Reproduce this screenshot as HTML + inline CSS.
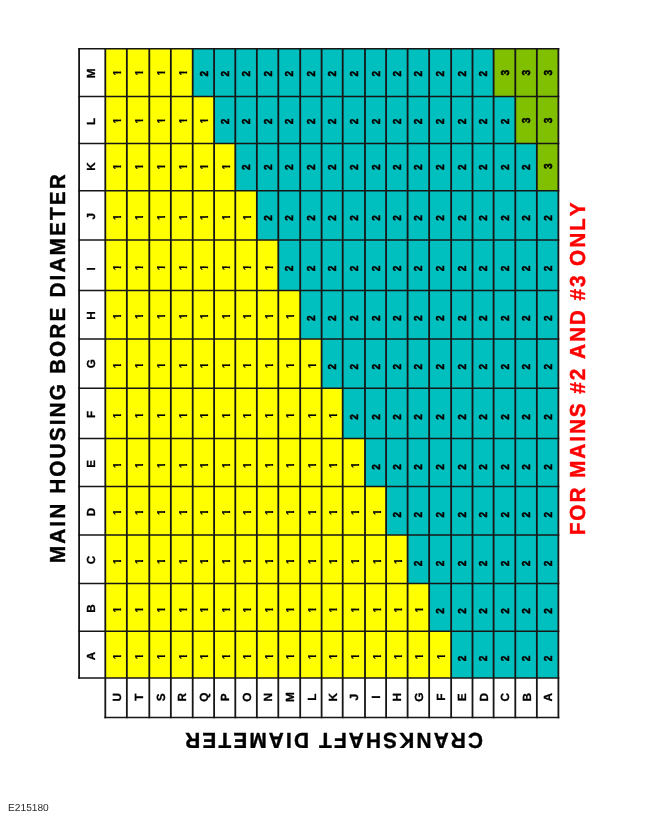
<!DOCTYPE html>
<html lang="en">
<head>
<meta charset="utf-8">
<title>E215180 - Main bearing selection chart</title>
<style>
html,body{margin:0;padding:0;background:#fff;}
body{width:650px;height:819px;overflow:hidden;}
svg{display:block;}
text{font-family:"Liberation Sans",Arial,Helvetica,sans-serif;text-rendering:geometricPrecision;font-kerning:none;}
.b{font-weight:700;}
.t{font-weight:700;font-size:21.7px;letter-spacing:2.188px;stroke-width:0.4px;stroke-linejoin:round;}
.c{font-weight:700;font-size:11.5px;text-anchor:middle;stroke:#000;stroke-width:0.5px;stroke-linejoin:round;}
.o{stroke-width:0.2px;}
.h{font-weight:700;font-size:11.7px;text-anchor:middle;stroke:#000;stroke-width:0.3px;stroke-linejoin:round;}
.l{font-weight:700;font-size:11.8px;text-anchor:middle;stroke:#000;stroke-width:0.3px;stroke-linejoin:round;}
</style>
</head>
<body>
<svg width="650" height="819" viewBox="0 0 650 819">
<rect x="0" y="0" width="650" height="819" fill="#ffffff"/>
<defs><clipPath id="k1" clipPathUnits="userSpaceOnUse"><rect x="-6" y="-12" width="12" height="9.53"/><rect x="-0.81" y="-12" width="2.18" height="14"/></clipPath></defs>
<g>
<rect x="105.30" y="48.80" width="87.40" height="47.60" fill="#ffff00"/>
<rect x="192.70" y="48.80" width="300.90" height="47.60" fill="#00bfbf"/>
<rect x="493.60" y="48.80" width="64.80" height="47.60" fill="#80c000"/>
<rect x="105.30" y="96.40" width="108.80" height="47.10" fill="#ffff00"/>
<rect x="214.10" y="96.40" width="301.20" height="47.10" fill="#00bfbf"/>
<rect x="515.30" y="96.40" width="43.10" height="47.10" fill="#80c000"/>
<rect x="105.30" y="143.50" width="130.00" height="47.30" fill="#ffff00"/>
<rect x="235.30" y="143.50" width="301.55" height="47.30" fill="#00bfbf"/>
<rect x="536.85" y="143.50" width="21.55" height="47.30" fill="#80c000"/>
<rect x="105.30" y="190.80" width="151.55" height="49.10" fill="#ffff00"/>
<rect x="256.85" y="190.80" width="301.55" height="49.10" fill="#00bfbf"/>
<rect x="105.30" y="239.90" width="173.00" height="50.50" fill="#ffff00"/>
<rect x="278.30" y="239.90" width="280.10" height="50.50" fill="#00bfbf"/>
<rect x="105.30" y="290.40" width="194.90" height="48.50" fill="#ffff00"/>
<rect x="300.20" y="290.40" width="258.20" height="48.50" fill="#00bfbf"/>
<rect x="105.30" y="338.90" width="216.30" height="49.30" fill="#ffff00"/>
<rect x="321.60" y="338.90" width="236.80" height="49.30" fill="#00bfbf"/>
<rect x="105.30" y="388.20" width="237.40" height="50.20" fill="#ffff00"/>
<rect x="342.70" y="388.20" width="215.70" height="50.20" fill="#00bfbf"/>
<rect x="105.30" y="438.40" width="259.70" height="48.20" fill="#ffff00"/>
<rect x="365.00" y="438.40" width="193.40" height="48.20" fill="#00bfbf"/>
<rect x="105.30" y="486.60" width="280.80" height="48.30" fill="#ffff00"/>
<rect x="386.10" y="486.60" width="172.30" height="48.30" fill="#00bfbf"/>
<rect x="105.30" y="534.90" width="302.30" height="48.50" fill="#ffff00"/>
<rect x="407.60" y="534.90" width="150.80" height="48.50" fill="#00bfbf"/>
<rect x="105.30" y="583.40" width="323.85" height="47.90" fill="#ffff00"/>
<rect x="429.15" y="583.40" width="129.25" height="47.90" fill="#00bfbf"/>
<rect x="105.30" y="631.30" width="345.85" height="46.70" fill="#ffff00"/>
<rect x="451.15" y="631.30" width="107.25" height="46.70" fill="#00bfbf"/>
</g>
<g stroke="#161616" stroke-width="1.8" fill="none" stroke-linecap="butt">
<line x1="105.30" y1="48.05" x2="105.30" y2="718.35"/>
<line x1="126.85" y1="48.05" x2="126.85" y2="718.35"/>
<line x1="149.30" y1="48.05" x2="149.30" y2="718.35"/>
<line x1="170.85" y1="48.05" x2="170.85" y2="718.35"/>
<line x1="192.70" y1="48.05" x2="192.70" y2="718.35"/>
<line x1="214.10" y1="48.05" x2="214.10" y2="718.35"/>
<line x1="235.30" y1="48.05" x2="235.30" y2="718.35"/>
<line x1="256.85" y1="48.05" x2="256.85" y2="718.35"/>
<line x1="278.30" y1="48.05" x2="278.30" y2="718.35"/>
<line x1="300.20" y1="48.05" x2="300.20" y2="718.35"/>
<line x1="321.60" y1="48.05" x2="321.60" y2="718.35"/>
<line x1="342.70" y1="48.05" x2="342.70" y2="718.35"/>
<line x1="365.00" y1="48.05" x2="365.00" y2="718.35"/>
<line x1="386.10" y1="48.05" x2="386.10" y2="718.35"/>
<line x1="407.60" y1="48.05" x2="407.60" y2="718.35"/>
<line x1="429.15" y1="48.05" x2="429.15" y2="718.35"/>
<line x1="451.15" y1="48.05" x2="451.15" y2="718.35"/>
<line x1="472.50" y1="48.05" x2="472.50" y2="718.35"/>
<line x1="493.60" y1="48.05" x2="493.60" y2="718.35"/>
<line x1="515.30" y1="48.05" x2="515.30" y2="718.35"/>
<line x1="536.85" y1="48.05" x2="536.85" y2="718.35"/>
<line x1="558.40" y1="48.05" x2="558.40" y2="718.35"/>
<line x1="79.10" y1="48.05" x2="79.10" y2="678.75"/>
</g>
<g stroke="#161616" stroke-width="1.5" fill="none" stroke-linecap="butt">
<line x1="78.20" y1="48.80" x2="559.30" y2="48.80"/>
<line x1="78.20" y1="96.40" x2="559.30" y2="96.40"/>
<line x1="78.20" y1="143.50" x2="559.30" y2="143.50"/>
<line x1="78.20" y1="190.80" x2="559.30" y2="190.80"/>
<line x1="78.20" y1="239.90" x2="559.30" y2="239.90"/>
<line x1="78.20" y1="290.40" x2="559.30" y2="290.40"/>
<line x1="78.20" y1="338.90" x2="559.30" y2="338.90"/>
<line x1="78.20" y1="388.20" x2="559.30" y2="388.20"/>
<line x1="78.20" y1="438.40" x2="559.30" y2="438.40"/>
<line x1="78.20" y1="486.60" x2="559.30" y2="486.60"/>
<line x1="78.20" y1="534.90" x2="559.30" y2="534.90"/>
<line x1="78.20" y1="583.40" x2="559.30" y2="583.40"/>
<line x1="78.20" y1="631.30" x2="559.30" y2="631.30"/>
<line x1="78.20" y1="678.00" x2="559.30" y2="678.00"/>
<line x1="104.40" y1="717.60" x2="559.30" y2="717.60"/>
</g>
<g fill="#000">
<text class="h" transform="translate(95.20 73.40) rotate(-90) scale(1 1)">M</text>
<text class="h" transform="translate(95.20 121.35) rotate(-90) scale(1 1)">L</text>
<text class="h" transform="translate(95.20 166.45) rotate(-90) scale(1 1)">K</text>
<text class="h" transform="translate(95.20 216.15) rotate(-90) scale(1 1)">J</text>
<text class="h" transform="translate(95.20 268.75) rotate(-90) scale(1 1)">I</text>
<text class="h" transform="translate(95.20 315.45) rotate(-90) scale(1 1)">H</text>
<text class="h" transform="translate(95.20 363.75) rotate(-90) scale(1 1)">G</text>
<text class="h" transform="translate(95.20 414.50) rotate(-90) scale(1 1)">F</text>
<text class="h" transform="translate(95.20 463.90) rotate(-90) scale(1 1)">E</text>
<text class="h" transform="translate(95.20 512.05) rotate(-90) scale(1 1)">D</text>
<text class="h" transform="translate(95.20 559.95) rotate(-90) scale(1 1)">C</text>
<text class="h" transform="translate(95.20 608.55) rotate(-90) scale(1 1)">B</text>
<text class="h" transform="translate(95.20 655.95) rotate(-90) scale(1 1)">A</text>
<text class="l" transform="translate(120.67 697.20) rotate(-90) scale(1 1)">U</text>
<text class="l" transform="translate(142.67 697.20) rotate(-90) scale(1 1)">T</text>
<text class="l" transform="translate(164.67 697.20) rotate(-90) scale(1 1)">S</text>
<text class="l" transform="translate(186.37 697.20) rotate(-90) scale(1 1)">R</text>
<text class="l" transform="translate(208.00 697.20) rotate(-90) scale(1 1)">Q</text>
<text class="l" transform="translate(229.30 697.20) rotate(-90) scale(1 1)">P</text>
<text class="l" transform="translate(250.68 697.20) rotate(-90) scale(1 1)">O</text>
<text class="l" transform="translate(272.18 697.20) rotate(-90) scale(1 1)">N</text>
<text class="l" transform="translate(293.85 697.20) rotate(-90) scale(1 1)">M</text>
<text class="l" transform="translate(315.50 697.20) rotate(-90) scale(1 1)">L</text>
<text class="l" transform="translate(336.75 697.20) rotate(-90) scale(1 1)">K</text>
<text class="l" transform="translate(358.45 697.20) rotate(-90) scale(1 1)">J</text>
<text class="l" transform="translate(380.15 697.20) rotate(-90) scale(1 1)">I</text>
<text class="l" transform="translate(401.45 697.20) rotate(-90) scale(1 1)">H</text>
<text class="l" transform="translate(422.98 697.20) rotate(-90) scale(1 1)">G</text>
<text class="l" transform="translate(444.75 697.20) rotate(-90) scale(1 1)">F</text>
<text class="l" transform="translate(466.43 697.20) rotate(-90) scale(1 1)">E</text>
<text class="l" transform="translate(487.65 697.20) rotate(-90) scale(1 1)">D</text>
<text class="l" transform="translate(509.05 697.20) rotate(-90) scale(1 1)">C</text>
<text class="l" transform="translate(530.68 697.20) rotate(-90) scale(1 1)">B</text>
<text class="l" transform="translate(552.23 697.20) rotate(-90) scale(1 1)">A</text>
<text class="c o" clip-path="url(#k1)" transform="translate(121.07 72.70) rotate(-90) scale(0.87 1)">1</text>
<text class="c o" clip-path="url(#k1)" transform="translate(143.07 72.70) rotate(-90) scale(0.87 1)">1</text>
<text class="c o" clip-path="url(#k1)" transform="translate(165.07 72.70) rotate(-90) scale(0.87 1)">1</text>
<text class="c o" clip-path="url(#k1)" transform="translate(186.77 72.70) rotate(-90) scale(0.87 1)">1</text>
<text class="c" transform="translate(207.50 73.60) rotate(-90) scale(0.87 1)">2</text>
<text class="c" transform="translate(228.80 73.60) rotate(-90) scale(0.87 1)">2</text>
<text class="c" transform="translate(250.18 73.60) rotate(-90) scale(0.87 1)">2</text>
<text class="c" transform="translate(271.68 73.60) rotate(-90) scale(0.87 1)">2</text>
<text class="c" transform="translate(293.35 73.60) rotate(-90) scale(0.87 1)">2</text>
<text class="c" transform="translate(315.00 73.60) rotate(-90) scale(0.87 1)">2</text>
<text class="c" transform="translate(336.25 73.60) rotate(-90) scale(0.87 1)">2</text>
<text class="c" transform="translate(357.95 73.60) rotate(-90) scale(0.87 1)">2</text>
<text class="c" transform="translate(379.65 73.60) rotate(-90) scale(0.87 1)">2</text>
<text class="c" transform="translate(400.95 73.60) rotate(-90) scale(0.87 1)">2</text>
<text class="c" transform="translate(422.48 73.60) rotate(-90) scale(0.87 1)">2</text>
<text class="c" transform="translate(444.25 73.60) rotate(-90) scale(0.87 1)">2</text>
<text class="c" transform="translate(465.93 73.60) rotate(-90) scale(0.87 1)">2</text>
<text class="c" transform="translate(487.15 73.60) rotate(-90) scale(0.87 1)">2</text>
<text class="c" transform="translate(508.55 72.60) rotate(-90) scale(0.87 1)">3</text>
<text class="c" transform="translate(530.18 72.60) rotate(-90) scale(0.87 1)">3</text>
<text class="c" transform="translate(551.73 72.60) rotate(-90) scale(0.87 1)">3</text>
<text class="c o" clip-path="url(#k1)" transform="translate(121.07 120.60) rotate(-90) scale(0.87 1)">1</text>
<text class="c o" clip-path="url(#k1)" transform="translate(143.07 120.60) rotate(-90) scale(0.87 1)">1</text>
<text class="c o" clip-path="url(#k1)" transform="translate(165.07 120.60) rotate(-90) scale(0.87 1)">1</text>
<text class="c o" clip-path="url(#k1)" transform="translate(186.77 120.60) rotate(-90) scale(0.87 1)">1</text>
<text class="c o" clip-path="url(#k1)" transform="translate(208.40 120.60) rotate(-90) scale(0.87 1)">1</text>
<text class="c" transform="translate(228.80 121.50) rotate(-90) scale(0.87 1)">2</text>
<text class="c" transform="translate(250.18 121.50) rotate(-90) scale(0.87 1)">2</text>
<text class="c" transform="translate(271.68 121.50) rotate(-90) scale(0.87 1)">2</text>
<text class="c" transform="translate(293.35 121.50) rotate(-90) scale(0.87 1)">2</text>
<text class="c" transform="translate(315.00 121.50) rotate(-90) scale(0.87 1)">2</text>
<text class="c" transform="translate(336.25 121.50) rotate(-90) scale(0.87 1)">2</text>
<text class="c" transform="translate(357.95 121.50) rotate(-90) scale(0.87 1)">2</text>
<text class="c" transform="translate(379.65 121.50) rotate(-90) scale(0.87 1)">2</text>
<text class="c" transform="translate(400.95 121.50) rotate(-90) scale(0.87 1)">2</text>
<text class="c" transform="translate(422.48 121.50) rotate(-90) scale(0.87 1)">2</text>
<text class="c" transform="translate(444.25 121.50) rotate(-90) scale(0.87 1)">2</text>
<text class="c" transform="translate(465.93 121.50) rotate(-90) scale(0.87 1)">2</text>
<text class="c" transform="translate(487.15 121.50) rotate(-90) scale(0.87 1)">2</text>
<text class="c" transform="translate(508.55 121.50) rotate(-90) scale(0.87 1)">2</text>
<text class="c" transform="translate(530.18 120.50) rotate(-90) scale(0.87 1)">3</text>
<text class="c" transform="translate(551.73 120.50) rotate(-90) scale(0.87 1)">3</text>
<text class="c o" clip-path="url(#k1)" transform="translate(121.07 166.70) rotate(-90) scale(0.87 1)">1</text>
<text class="c o" clip-path="url(#k1)" transform="translate(143.07 166.70) rotate(-90) scale(0.87 1)">1</text>
<text class="c o" clip-path="url(#k1)" transform="translate(165.07 166.70) rotate(-90) scale(0.87 1)">1</text>
<text class="c o" clip-path="url(#k1)" transform="translate(186.77 166.70) rotate(-90) scale(0.87 1)">1</text>
<text class="c o" clip-path="url(#k1)" transform="translate(208.40 166.70) rotate(-90) scale(0.87 1)">1</text>
<text class="c o" clip-path="url(#k1)" transform="translate(229.70 166.70) rotate(-90) scale(0.87 1)">1</text>
<text class="c" transform="translate(250.18 167.20) rotate(-90) scale(0.87 1)">2</text>
<text class="c" transform="translate(271.68 167.20) rotate(-90) scale(0.87 1)">2</text>
<text class="c" transform="translate(293.35 167.20) rotate(-90) scale(0.87 1)">2</text>
<text class="c" transform="translate(315.00 167.20) rotate(-90) scale(0.87 1)">2</text>
<text class="c" transform="translate(336.25 167.20) rotate(-90) scale(0.87 1)">2</text>
<text class="c" transform="translate(357.95 167.20) rotate(-90) scale(0.87 1)">2</text>
<text class="c" transform="translate(379.65 167.20) rotate(-90) scale(0.87 1)">2</text>
<text class="c" transform="translate(400.95 167.20) rotate(-90) scale(0.87 1)">2</text>
<text class="c" transform="translate(422.48 167.20) rotate(-90) scale(0.87 1)">2</text>
<text class="c" transform="translate(444.25 167.20) rotate(-90) scale(0.87 1)">2</text>
<text class="c" transform="translate(465.93 167.20) rotate(-90) scale(0.87 1)">2</text>
<text class="c" transform="translate(487.15 167.20) rotate(-90) scale(0.87 1)">2</text>
<text class="c" transform="translate(508.55 167.20) rotate(-90) scale(0.87 1)">2</text>
<text class="c" transform="translate(530.18 167.20) rotate(-90) scale(0.87 1)">2</text>
<text class="c" transform="translate(551.73 166.20) rotate(-90) scale(0.87 1)">3</text>
<text class="c o" clip-path="url(#k1)" transform="translate(121.07 217.15) rotate(-90) scale(0.87 1)">1</text>
<text class="c o" clip-path="url(#k1)" transform="translate(143.07 217.15) rotate(-90) scale(0.87 1)">1</text>
<text class="c o" clip-path="url(#k1)" transform="translate(165.07 217.15) rotate(-90) scale(0.87 1)">1</text>
<text class="c o" clip-path="url(#k1)" transform="translate(186.77 217.15) rotate(-90) scale(0.87 1)">1</text>
<text class="c o" clip-path="url(#k1)" transform="translate(208.40 217.15) rotate(-90) scale(0.87 1)">1</text>
<text class="c o" clip-path="url(#k1)" transform="translate(229.70 217.15) rotate(-90) scale(0.87 1)">1</text>
<text class="c o" clip-path="url(#k1)" transform="translate(251.08 217.15) rotate(-90) scale(0.87 1)">1</text>
<text class="c" transform="translate(271.68 218.05) rotate(-90) scale(0.87 1)">2</text>
<text class="c" transform="translate(293.35 218.05) rotate(-90) scale(0.87 1)">2</text>
<text class="c" transform="translate(315.00 218.05) rotate(-90) scale(0.87 1)">2</text>
<text class="c" transform="translate(336.25 218.05) rotate(-90) scale(0.87 1)">2</text>
<text class="c" transform="translate(357.95 218.05) rotate(-90) scale(0.87 1)">2</text>
<text class="c" transform="translate(379.65 218.05) rotate(-90) scale(0.87 1)">2</text>
<text class="c" transform="translate(400.95 218.05) rotate(-90) scale(0.87 1)">2</text>
<text class="c" transform="translate(422.48 218.05) rotate(-90) scale(0.87 1)">2</text>
<text class="c" transform="translate(444.25 218.05) rotate(-90) scale(0.87 1)">2</text>
<text class="c" transform="translate(465.93 218.05) rotate(-90) scale(0.87 1)">2</text>
<text class="c" transform="translate(487.15 218.05) rotate(-90) scale(0.87 1)">2</text>
<text class="c" transform="translate(508.55 218.05) rotate(-90) scale(0.87 1)">2</text>
<text class="c" transform="translate(530.18 218.05) rotate(-90) scale(0.87 1)">2</text>
<text class="c" transform="translate(551.73 218.05) rotate(-90) scale(0.87 1)">2</text>
<text class="c o" clip-path="url(#k1)" transform="translate(121.07 267.58) rotate(-90) scale(0.87 1)">1</text>
<text class="c o" clip-path="url(#k1)" transform="translate(143.07 267.58) rotate(-90) scale(0.87 1)">1</text>
<text class="c o" clip-path="url(#k1)" transform="translate(165.07 267.58) rotate(-90) scale(0.87 1)">1</text>
<text class="c o" clip-path="url(#k1)" transform="translate(186.77 267.58) rotate(-90) scale(0.87 1)">1</text>
<text class="c o" clip-path="url(#k1)" transform="translate(208.40 267.58) rotate(-90) scale(0.87 1)">1</text>
<text class="c o" clip-path="url(#k1)" transform="translate(229.70 267.58) rotate(-90) scale(0.87 1)">1</text>
<text class="c o" clip-path="url(#k1)" transform="translate(251.08 267.58) rotate(-90) scale(0.87 1)">1</text>
<text class="c o" clip-path="url(#k1)" transform="translate(272.58 267.58) rotate(-90) scale(0.87 1)">1</text>
<text class="c" transform="translate(293.35 268.58) rotate(-90) scale(0.87 1)">2</text>
<text class="c" transform="translate(315.00 268.58) rotate(-90) scale(0.87 1)">2</text>
<text class="c" transform="translate(336.25 268.58) rotate(-90) scale(0.87 1)">2</text>
<text class="c" transform="translate(357.95 268.58) rotate(-90) scale(0.87 1)">2</text>
<text class="c" transform="translate(379.65 268.58) rotate(-90) scale(0.87 1)">2</text>
<text class="c" transform="translate(400.95 268.58) rotate(-90) scale(0.87 1)">2</text>
<text class="c" transform="translate(422.48 268.58) rotate(-90) scale(0.87 1)">2</text>
<text class="c" transform="translate(444.25 268.58) rotate(-90) scale(0.87 1)">2</text>
<text class="c" transform="translate(465.93 268.58) rotate(-90) scale(0.87 1)">2</text>
<text class="c" transform="translate(487.15 268.58) rotate(-90) scale(0.87 1)">2</text>
<text class="c" transform="translate(508.55 268.58) rotate(-90) scale(0.87 1)">2</text>
<text class="c" transform="translate(530.18 268.58) rotate(-90) scale(0.87 1)">2</text>
<text class="c" transform="translate(551.73 268.58) rotate(-90) scale(0.87 1)">2</text>
<text class="c o" clip-path="url(#k1)" transform="translate(121.07 316.17) rotate(-90) scale(0.87 1)">1</text>
<text class="c o" clip-path="url(#k1)" transform="translate(143.07 316.17) rotate(-90) scale(0.87 1)">1</text>
<text class="c o" clip-path="url(#k1)" transform="translate(165.07 316.17) rotate(-90) scale(0.87 1)">1</text>
<text class="c o" clip-path="url(#k1)" transform="translate(186.77 316.17) rotate(-90) scale(0.87 1)">1</text>
<text class="c o" clip-path="url(#k1)" transform="translate(208.40 316.17) rotate(-90) scale(0.87 1)">1</text>
<text class="c o" clip-path="url(#k1)" transform="translate(229.70 316.17) rotate(-90) scale(0.87 1)">1</text>
<text class="c o" clip-path="url(#k1)" transform="translate(251.08 316.17) rotate(-90) scale(0.87 1)">1</text>
<text class="c o" clip-path="url(#k1)" transform="translate(272.58 316.17) rotate(-90) scale(0.87 1)">1</text>
<text class="c o" clip-path="url(#k1)" transform="translate(294.25 316.17) rotate(-90) scale(0.87 1)">1</text>
<text class="c" transform="translate(315.00 318.27) rotate(-90) scale(0.87 1)">2</text>
<text class="c" transform="translate(336.25 318.27) rotate(-90) scale(0.87 1)">2</text>
<text class="c" transform="translate(357.95 318.27) rotate(-90) scale(0.87 1)">2</text>
<text class="c" transform="translate(379.65 318.27) rotate(-90) scale(0.87 1)">2</text>
<text class="c" transform="translate(400.95 318.27) rotate(-90) scale(0.87 1)">2</text>
<text class="c" transform="translate(422.48 318.27) rotate(-90) scale(0.87 1)">2</text>
<text class="c" transform="translate(444.25 318.27) rotate(-90) scale(0.87 1)">2</text>
<text class="c" transform="translate(465.93 318.27) rotate(-90) scale(0.87 1)">2</text>
<text class="c" transform="translate(487.15 318.27) rotate(-90) scale(0.87 1)">2</text>
<text class="c" transform="translate(508.55 318.27) rotate(-90) scale(0.87 1)">2</text>
<text class="c" transform="translate(530.18 318.27) rotate(-90) scale(0.87 1)">2</text>
<text class="c" transform="translate(551.73 318.27) rotate(-90) scale(0.87 1)">2</text>
<text class="c o" clip-path="url(#k1)" transform="translate(121.07 365.40) rotate(-90) scale(0.87 1)">1</text>
<text class="c o" clip-path="url(#k1)" transform="translate(143.07 365.40) rotate(-90) scale(0.87 1)">1</text>
<text class="c o" clip-path="url(#k1)" transform="translate(165.07 365.40) rotate(-90) scale(0.87 1)">1</text>
<text class="c o" clip-path="url(#k1)" transform="translate(186.77 365.40) rotate(-90) scale(0.87 1)">1</text>
<text class="c o" clip-path="url(#k1)" transform="translate(208.40 365.40) rotate(-90) scale(0.87 1)">1</text>
<text class="c o" clip-path="url(#k1)" transform="translate(229.70 365.40) rotate(-90) scale(0.87 1)">1</text>
<text class="c o" clip-path="url(#k1)" transform="translate(251.08 365.40) rotate(-90) scale(0.87 1)">1</text>
<text class="c o" clip-path="url(#k1)" transform="translate(272.58 365.40) rotate(-90) scale(0.87 1)">1</text>
<text class="c o" clip-path="url(#k1)" transform="translate(294.25 365.40) rotate(-90) scale(0.87 1)">1</text>
<text class="c o" clip-path="url(#k1)" transform="translate(315.90 365.40) rotate(-90) scale(0.87 1)">1</text>
<text class="c" transform="translate(336.25 366.60) rotate(-90) scale(0.87 1)">2</text>
<text class="c" transform="translate(357.95 366.60) rotate(-90) scale(0.87 1)">2</text>
<text class="c" transform="translate(379.65 366.60) rotate(-90) scale(0.87 1)">2</text>
<text class="c" transform="translate(400.95 366.60) rotate(-90) scale(0.87 1)">2</text>
<text class="c" transform="translate(422.48 366.60) rotate(-90) scale(0.87 1)">2</text>
<text class="c" transform="translate(444.25 366.60) rotate(-90) scale(0.87 1)">2</text>
<text class="c" transform="translate(465.93 366.60) rotate(-90) scale(0.87 1)">2</text>
<text class="c" transform="translate(487.15 366.60) rotate(-90) scale(0.87 1)">2</text>
<text class="c" transform="translate(508.55 366.60) rotate(-90) scale(0.87 1)">2</text>
<text class="c" transform="translate(530.18 366.60) rotate(-90) scale(0.87 1)">2</text>
<text class="c" transform="translate(551.73 366.60) rotate(-90) scale(0.87 1)">2</text>
<text class="c o" clip-path="url(#k1)" transform="translate(121.07 415.35) rotate(-90) scale(0.87 1)">1</text>
<text class="c o" clip-path="url(#k1)" transform="translate(143.07 415.35) rotate(-90) scale(0.87 1)">1</text>
<text class="c o" clip-path="url(#k1)" transform="translate(165.07 415.35) rotate(-90) scale(0.87 1)">1</text>
<text class="c o" clip-path="url(#k1)" transform="translate(186.77 415.35) rotate(-90) scale(0.87 1)">1</text>
<text class="c o" clip-path="url(#k1)" transform="translate(208.40 415.35) rotate(-90) scale(0.87 1)">1</text>
<text class="c o" clip-path="url(#k1)" transform="translate(229.70 415.35) rotate(-90) scale(0.87 1)">1</text>
<text class="c o" clip-path="url(#k1)" transform="translate(251.08 415.35) rotate(-90) scale(0.87 1)">1</text>
<text class="c o" clip-path="url(#k1)" transform="translate(272.58 415.35) rotate(-90) scale(0.87 1)">1</text>
<text class="c o" clip-path="url(#k1)" transform="translate(294.25 415.35) rotate(-90) scale(0.87 1)">1</text>
<text class="c o" clip-path="url(#k1)" transform="translate(315.90 415.35) rotate(-90) scale(0.87 1)">1</text>
<text class="c o" clip-path="url(#k1)" transform="translate(337.15 415.35) rotate(-90) scale(0.87 1)">1</text>
<text class="c" transform="translate(357.95 417.05) rotate(-90) scale(0.87 1)">2</text>
<text class="c" transform="translate(379.65 417.05) rotate(-90) scale(0.87 1)">2</text>
<text class="c" transform="translate(400.95 417.05) rotate(-90) scale(0.87 1)">2</text>
<text class="c" transform="translate(422.48 417.05) rotate(-90) scale(0.87 1)">2</text>
<text class="c" transform="translate(444.25 417.05) rotate(-90) scale(0.87 1)">2</text>
<text class="c" transform="translate(465.93 417.05) rotate(-90) scale(0.87 1)">2</text>
<text class="c" transform="translate(487.15 417.05) rotate(-90) scale(0.87 1)">2</text>
<text class="c" transform="translate(508.55 417.05) rotate(-90) scale(0.87 1)">2</text>
<text class="c" transform="translate(530.18 417.05) rotate(-90) scale(0.87 1)">2</text>
<text class="c" transform="translate(551.73 417.05) rotate(-90) scale(0.87 1)">2</text>
<text class="c o" clip-path="url(#k1)" transform="translate(121.07 465.15) rotate(-90) scale(0.87 1)">1</text>
<text class="c o" clip-path="url(#k1)" transform="translate(143.07 465.15) rotate(-90) scale(0.87 1)">1</text>
<text class="c o" clip-path="url(#k1)" transform="translate(165.07 465.15) rotate(-90) scale(0.87 1)">1</text>
<text class="c o" clip-path="url(#k1)" transform="translate(186.77 465.15) rotate(-90) scale(0.87 1)">1</text>
<text class="c o" clip-path="url(#k1)" transform="translate(208.40 465.15) rotate(-90) scale(0.87 1)">1</text>
<text class="c o" clip-path="url(#k1)" transform="translate(229.70 465.15) rotate(-90) scale(0.87 1)">1</text>
<text class="c o" clip-path="url(#k1)" transform="translate(251.08 465.15) rotate(-90) scale(0.87 1)">1</text>
<text class="c o" clip-path="url(#k1)" transform="translate(272.58 465.15) rotate(-90) scale(0.87 1)">1</text>
<text class="c o" clip-path="url(#k1)" transform="translate(294.25 465.15) rotate(-90) scale(0.87 1)">1</text>
<text class="c o" clip-path="url(#k1)" transform="translate(315.90 465.15) rotate(-90) scale(0.87 1)">1</text>
<text class="c o" clip-path="url(#k1)" transform="translate(337.15 465.15) rotate(-90) scale(0.87 1)">1</text>
<text class="c o" clip-path="url(#k1)" transform="translate(358.85 465.15) rotate(-90) scale(0.87 1)">1</text>
<text class="c" transform="translate(379.65 466.85) rotate(-90) scale(0.87 1)">2</text>
<text class="c" transform="translate(400.95 466.85) rotate(-90) scale(0.87 1)">2</text>
<text class="c" transform="translate(422.48 466.85) rotate(-90) scale(0.87 1)">2</text>
<text class="c" transform="translate(444.25 466.85) rotate(-90) scale(0.87 1)">2</text>
<text class="c" transform="translate(465.93 466.85) rotate(-90) scale(0.87 1)">2</text>
<text class="c" transform="translate(487.15 466.85) rotate(-90) scale(0.87 1)">2</text>
<text class="c" transform="translate(508.55 466.85) rotate(-90) scale(0.87 1)">2</text>
<text class="c" transform="translate(530.18 466.85) rotate(-90) scale(0.87 1)">2</text>
<text class="c" transform="translate(551.73 466.85) rotate(-90) scale(0.87 1)">2</text>
<text class="c o" clip-path="url(#k1)" transform="translate(121.07 512.20) rotate(-90) scale(0.87 1)">1</text>
<text class="c o" clip-path="url(#k1)" transform="translate(143.07 512.20) rotate(-90) scale(0.87 1)">1</text>
<text class="c o" clip-path="url(#k1)" transform="translate(165.07 512.20) rotate(-90) scale(0.87 1)">1</text>
<text class="c o" clip-path="url(#k1)" transform="translate(186.77 512.20) rotate(-90) scale(0.87 1)">1</text>
<text class="c o" clip-path="url(#k1)" transform="translate(208.40 512.20) rotate(-90) scale(0.87 1)">1</text>
<text class="c o" clip-path="url(#k1)" transform="translate(229.70 512.20) rotate(-90) scale(0.87 1)">1</text>
<text class="c o" clip-path="url(#k1)" transform="translate(251.08 512.20) rotate(-90) scale(0.87 1)">1</text>
<text class="c o" clip-path="url(#k1)" transform="translate(272.58 512.20) rotate(-90) scale(0.87 1)">1</text>
<text class="c o" clip-path="url(#k1)" transform="translate(294.25 512.20) rotate(-90) scale(0.87 1)">1</text>
<text class="c o" clip-path="url(#k1)" transform="translate(315.90 512.20) rotate(-90) scale(0.87 1)">1</text>
<text class="c o" clip-path="url(#k1)" transform="translate(337.15 512.20) rotate(-90) scale(0.87 1)">1</text>
<text class="c o" clip-path="url(#k1)" transform="translate(358.85 512.20) rotate(-90) scale(0.87 1)">1</text>
<text class="c o" clip-path="url(#k1)" transform="translate(380.55 512.20) rotate(-90) scale(0.87 1)">1</text>
<text class="c" transform="translate(400.95 514.70) rotate(-90) scale(0.87 1)">2</text>
<text class="c" transform="translate(422.48 514.70) rotate(-90) scale(0.87 1)">2</text>
<text class="c" transform="translate(444.25 514.70) rotate(-90) scale(0.87 1)">2</text>
<text class="c" transform="translate(465.93 514.70) rotate(-90) scale(0.87 1)">2</text>
<text class="c" transform="translate(487.15 514.70) rotate(-90) scale(0.87 1)">2</text>
<text class="c" transform="translate(508.55 514.70) rotate(-90) scale(0.87 1)">2</text>
<text class="c" transform="translate(530.18 514.70) rotate(-90) scale(0.87 1)">2</text>
<text class="c" transform="translate(551.73 514.70) rotate(-90) scale(0.87 1)">2</text>
<text class="c o" clip-path="url(#k1)" transform="translate(121.07 561.25) rotate(-90) scale(0.87 1)">1</text>
<text class="c o" clip-path="url(#k1)" transform="translate(143.07 561.25) rotate(-90) scale(0.87 1)">1</text>
<text class="c o" clip-path="url(#k1)" transform="translate(165.07 561.25) rotate(-90) scale(0.87 1)">1</text>
<text class="c o" clip-path="url(#k1)" transform="translate(186.77 561.25) rotate(-90) scale(0.87 1)">1</text>
<text class="c o" clip-path="url(#k1)" transform="translate(208.40 561.25) rotate(-90) scale(0.87 1)">1</text>
<text class="c o" clip-path="url(#k1)" transform="translate(229.70 561.25) rotate(-90) scale(0.87 1)">1</text>
<text class="c o" clip-path="url(#k1)" transform="translate(251.08 561.25) rotate(-90) scale(0.87 1)">1</text>
<text class="c o" clip-path="url(#k1)" transform="translate(272.58 561.25) rotate(-90) scale(0.87 1)">1</text>
<text class="c o" clip-path="url(#k1)" transform="translate(294.25 561.25) rotate(-90) scale(0.87 1)">1</text>
<text class="c o" clip-path="url(#k1)" transform="translate(315.90 561.25) rotate(-90) scale(0.87 1)">1</text>
<text class="c o" clip-path="url(#k1)" transform="translate(337.15 561.25) rotate(-90) scale(0.87 1)">1</text>
<text class="c o" clip-path="url(#k1)" transform="translate(358.85 561.25) rotate(-90) scale(0.87 1)">1</text>
<text class="c o" clip-path="url(#k1)" transform="translate(380.55 561.25) rotate(-90) scale(0.87 1)">1</text>
<text class="c o" clip-path="url(#k1)" transform="translate(401.85 561.25) rotate(-90) scale(0.87 1)">1</text>
<text class="c" transform="translate(422.48 563.35) rotate(-90) scale(0.87 1)">2</text>
<text class="c" transform="translate(444.25 563.35) rotate(-90) scale(0.87 1)">2</text>
<text class="c" transform="translate(465.93 563.35) rotate(-90) scale(0.87 1)">2</text>
<text class="c" transform="translate(487.15 563.35) rotate(-90) scale(0.87 1)">2</text>
<text class="c" transform="translate(508.55 563.35) rotate(-90) scale(0.87 1)">2</text>
<text class="c" transform="translate(530.18 563.35) rotate(-90) scale(0.87 1)">2</text>
<text class="c" transform="translate(551.73 563.35) rotate(-90) scale(0.87 1)">2</text>
<text class="c o" clip-path="url(#k1)" transform="translate(121.07 609.75) rotate(-90) scale(0.87 1)">1</text>
<text class="c o" clip-path="url(#k1)" transform="translate(143.07 609.75) rotate(-90) scale(0.87 1)">1</text>
<text class="c o" clip-path="url(#k1)" transform="translate(165.07 609.75) rotate(-90) scale(0.87 1)">1</text>
<text class="c o" clip-path="url(#k1)" transform="translate(186.77 609.75) rotate(-90) scale(0.87 1)">1</text>
<text class="c o" clip-path="url(#k1)" transform="translate(208.40 609.75) rotate(-90) scale(0.87 1)">1</text>
<text class="c o" clip-path="url(#k1)" transform="translate(229.70 609.75) rotate(-90) scale(0.87 1)">1</text>
<text class="c o" clip-path="url(#k1)" transform="translate(251.08 609.75) rotate(-90) scale(0.87 1)">1</text>
<text class="c o" clip-path="url(#k1)" transform="translate(272.58 609.75) rotate(-90) scale(0.87 1)">1</text>
<text class="c o" clip-path="url(#k1)" transform="translate(294.25 609.75) rotate(-90) scale(0.87 1)">1</text>
<text class="c o" clip-path="url(#k1)" transform="translate(315.90 609.75) rotate(-90) scale(0.87 1)">1</text>
<text class="c o" clip-path="url(#k1)" transform="translate(337.15 609.75) rotate(-90) scale(0.87 1)">1</text>
<text class="c o" clip-path="url(#k1)" transform="translate(358.85 609.75) rotate(-90) scale(0.87 1)">1</text>
<text class="c o" clip-path="url(#k1)" transform="translate(380.55 609.75) rotate(-90) scale(0.87 1)">1</text>
<text class="c o" clip-path="url(#k1)" transform="translate(401.85 609.75) rotate(-90) scale(0.87 1)">1</text>
<text class="c o" clip-path="url(#k1)" transform="translate(423.38 609.75) rotate(-90) scale(0.87 1)">1</text>
<text class="c" transform="translate(444.25 610.95) rotate(-90) scale(0.87 1)">2</text>
<text class="c" transform="translate(465.93 610.95) rotate(-90) scale(0.87 1)">2</text>
<text class="c" transform="translate(487.15 610.95) rotate(-90) scale(0.87 1)">2</text>
<text class="c" transform="translate(508.55 610.95) rotate(-90) scale(0.87 1)">2</text>
<text class="c" transform="translate(530.18 610.95) rotate(-90) scale(0.87 1)">2</text>
<text class="c" transform="translate(551.73 610.95) rotate(-90) scale(0.87 1)">2</text>
<text class="c o" clip-path="url(#k1)" transform="translate(121.07 656.35) rotate(-90) scale(0.87 1)">1</text>
<text class="c o" clip-path="url(#k1)" transform="translate(143.07 656.35) rotate(-90) scale(0.87 1)">1</text>
<text class="c o" clip-path="url(#k1)" transform="translate(165.07 656.35) rotate(-90) scale(0.87 1)">1</text>
<text class="c o" clip-path="url(#k1)" transform="translate(186.77 656.35) rotate(-90) scale(0.87 1)">1</text>
<text class="c o" clip-path="url(#k1)" transform="translate(208.40 656.35) rotate(-90) scale(0.87 1)">1</text>
<text class="c o" clip-path="url(#k1)" transform="translate(229.70 656.35) rotate(-90) scale(0.87 1)">1</text>
<text class="c o" clip-path="url(#k1)" transform="translate(251.08 656.35) rotate(-90) scale(0.87 1)">1</text>
<text class="c o" clip-path="url(#k1)" transform="translate(272.58 656.35) rotate(-90) scale(0.87 1)">1</text>
<text class="c o" clip-path="url(#k1)" transform="translate(294.25 656.35) rotate(-90) scale(0.87 1)">1</text>
<text class="c o" clip-path="url(#k1)" transform="translate(315.90 656.35) rotate(-90) scale(0.87 1)">1</text>
<text class="c o" clip-path="url(#k1)" transform="translate(337.15 656.35) rotate(-90) scale(0.87 1)">1</text>
<text class="c o" clip-path="url(#k1)" transform="translate(358.85 656.35) rotate(-90) scale(0.87 1)">1</text>
<text class="c o" clip-path="url(#k1)" transform="translate(380.55 656.35) rotate(-90) scale(0.87 1)">1</text>
<text class="c o" clip-path="url(#k1)" transform="translate(401.85 656.35) rotate(-90) scale(0.87 1)">1</text>
<text class="c o" clip-path="url(#k1)" transform="translate(423.38 656.35) rotate(-90) scale(0.87 1)">1</text>
<text class="c o" clip-path="url(#k1)" transform="translate(445.15 656.35) rotate(-90) scale(0.87 1)">1</text>
<text class="c" transform="translate(465.93 658.45) rotate(-90) scale(0.87 1)">2</text>
<text class="c" transform="translate(487.15 658.45) rotate(-90) scale(0.87 1)">2</text>
<text class="c" transform="translate(508.55 658.45) rotate(-90) scale(0.87 1)">2</text>
<text class="c" transform="translate(530.18 658.45) rotate(-90) scale(0.87 1)">2</text>
<text class="c" transform="translate(551.73 658.45) rotate(-90) scale(0.87 1)">2</text>
</g>
<text class="t" fill="#000" stroke="#000" transform="translate(65.00 563.30) rotate(-90) scale(0.96 1)">MAIN HOUSING BORE DIAMETER</text>
<text class="t" fill="#000" stroke="#000" style="letter-spacing:2.240px" transform="translate(483.00 732.80) rotate(180) scale(0.96 1)">CRANKSHAFT DIAMETER</text>
<text class="t" fill="#ff0000" stroke="#ff0000" style="letter-spacing:1.979px" transform="translate(585.00 535.30) rotate(-90) scale(0.96 1)">FOR MAINS #2 AND #3 ONLY</text>
<text x="8" y="811.2" font-size="10.2px" fill="#2a2a2a">E215180</text>
</svg>
</body>
</html>
